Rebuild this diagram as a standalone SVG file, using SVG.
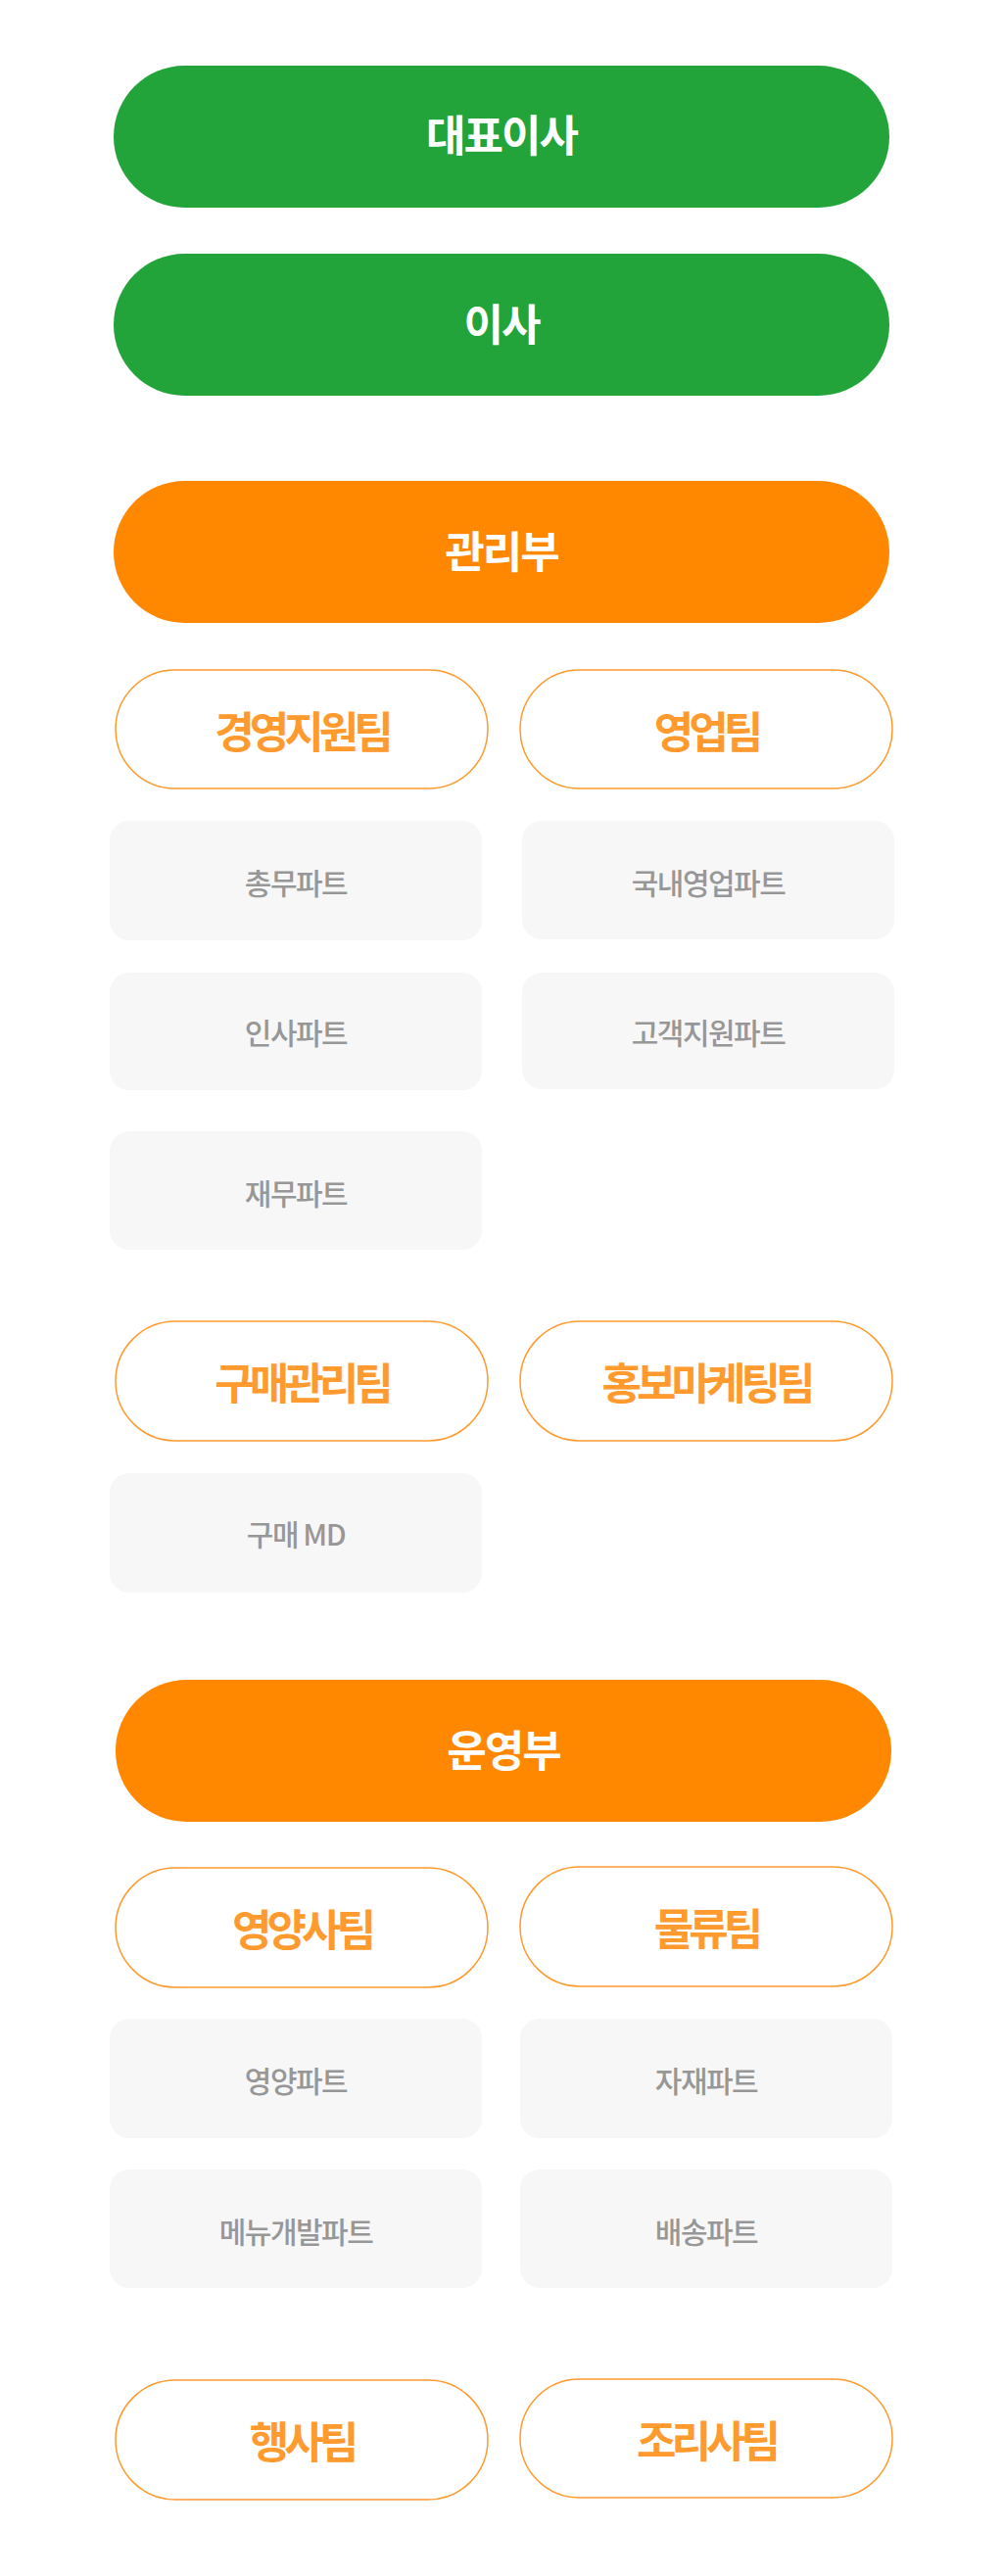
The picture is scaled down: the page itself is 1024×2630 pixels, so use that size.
<svg xmlns="http://www.w3.org/2000/svg" width="1024" height="2630" viewBox="0 0 1024 2630">
<style>
text{font-family:"Noto Sans CJK KR","Noto Sans",sans-serif;text-anchor:middle;dominant-baseline:central}
.g{fill:#22a43a}
.o{fill:#ff8800}
.t{fill:#ffffff;stroke:#ff9a2e;stroke-width:1.5}
.b{fill:#f7f7f7}
.mt{fill:#ffffff;font-size:44px;font-weight:700;letter-spacing:-2px}
.tt{fill:#ff9a2e;font-size:44px;font-weight:700;letter-spacing:-5px}
.bt{fill:#979797;font-size:30px;font-weight:500;letter-spacing:-1.5px}
</style>
<rect width="1024" height="2630" fill="#ffffff"/>
<g id="connectors"></g>
<g id="ceo"><rect class="g" x="116" y="67" width="792" height="145" rx="72.5"/><text class="mt" x="512" y="136">대표이사</text></g>
<g id="director"><rect class="g" x="116" y="259" width="792" height="145" rx="72.5"/><text class="mt" x="512" y="329">이사</text></g>
<g id="admin-dept"><rect class="o" x="116" y="491" width="792" height="145" rx="72.5"/><text class="mt" x="512" y="561">관리부</text></g>
<g id="team-mgmt"><rect class="t" x="118" y="684" width="380" height="121" rx="60.5"/><text class="tt" x="308" y="745">경영지원팀</text></g>
<g id="team-sales"><rect class="t" x="531" y="684" width="380" height="121" rx="60.5"/><text class="tt" x="721" y="745">영업팀</text></g>
<g id="part-general"><rect class="b" x="112" y="838" width="380" height="122" rx="20"/><text class="bt" x="302" y="900">총무파트</text></g>
<g id="part-domestic"><rect class="b" x="533" y="838" width="380" height="121" rx="20"/><text class="bt" x="723" y="900">국내영업파트</text></g>
<g id="part-hr"><rect class="b" x="112" y="993" width="380" height="120" rx="20"/><text class="bt" x="302" y="1053">인사파트</text></g>
<g id="part-cs"><rect class="b" x="533" y="993" width="380" height="119" rx="20"/><text class="bt" x="723" y="1053">고객지원파트</text></g>
<g id="part-finance"><rect class="b" x="112" y="1155" width="380" height="121" rx="20"/><text class="bt" x="302" y="1217">재무파트</text></g>
<g id="team-purchase"><rect class="t" x="118" y="1349" width="380" height="122" rx="61"/><text class="tt" x="308" y="1410">구매관리팀</text></g>
<g id="team-marketing"><rect class="t" x="531" y="1349" width="380" height="122" rx="61"/><text class="tt" x="721" y="1410">홍보마케팅팀</text></g>
<g id="part-md"><rect class="b" x="112" y="1504" width="380" height="122" rx="20"/><text class="bt" x="302" y="1565">구매 MD</text></g>
<g id="ops-dept"><rect class="o" x="118" y="1715" width="792" height="145" rx="72.5"/><text class="mt" x="514" y="1785">운영부</text></g>
<g id="team-nutrition"><rect class="t" x="118" y="1907" width="380" height="122" rx="61"/><text class="tt" x="308" y="1968">영양사팀</text></g>
<g id="team-logistics"><rect class="t" x="531" y="1906" width="380" height="122" rx="61"/><text class="tt" x="721" y="1967">물류팀</text></g>
<g id="part-nutrition"><rect class="b" x="112" y="2061" width="380" height="122" rx="20"/><text class="bt" x="302" y="2123">영양파트</text></g>
<g id="part-material"><rect class="b" x="531" y="2061" width="380" height="122" rx="20"/><text class="bt" x="721" y="2123">자재파트</text></g>
<g id="part-menu"><rect class="b" x="112" y="2215" width="380" height="121" rx="20"/><text class="bt" x="302" y="2277">메뉴개발파트</text></g>
<g id="part-delivery"><rect class="b" x="531" y="2215" width="380" height="121" rx="20"/><text class="bt" x="721" y="2277">배송파트</text></g>
<g id="team-event"><rect class="t" x="118" y="2430" width="380" height="122" rx="61"/><text class="tt" x="308" y="2491">행사팀</text></g>
<g id="team-cook"><rect class="t" x="531" y="2429" width="380" height="121" rx="60.5"/><text class="tt" x="721" y="2490">조리사팀</text></g>
</svg>
